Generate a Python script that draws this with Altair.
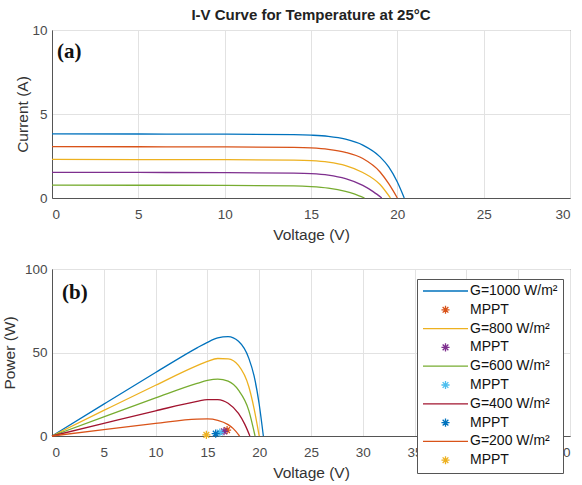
import altair as alt
import pandas as pd

# ---------------- data ----------------
keys_g = ["G=1000 W/m²", "G=800 W/m²", "G=600 W/m²", "G=400 W/m²", "G=200 W/m²"]
keys_m = ["MPPT1", "MPPT2", "MPPT3", "MPPT4", "MPPT5"]

v_1000 = [0, 5, 10, 14, 15, 16, 17, 18, 19, 19.5, 20, 20.4]
i_1000 = [3.82, 3.81, 3.80, 3.77, 3.74, 3.67, 3.50, 3.15, 2.45, 1.85, 0.95, 0]
p_1000 = [0, 19.1, 38.0, 52.8, 56.1, 58.7, 59.5, 56.7, 46.5, 36.1, 19.0, 0]

v_800 = [0, 5, 10, 14, 15, 16, 17, 18, 19, 19.5, 20.0]
i_800 = [3.06, 3.05, 3.04, 3.01, 2.98, 2.90, 2.72, 2.35, 1.55, 0.85, 0]
p_800 = [0, 15.3, 30.4, 42.1, 44.7, 46.4, 46.2, 42.3, 29.5, 16.6, 0]

v_600 = [0, 5, 10, 14, 15, 16, 17, 18, 19, 19.6]
i_600 = [2.30, 2.29, 2.28, 2.25, 2.22, 2.13, 1.93, 1.52, 0.80, 0]
p_600 = [0, 11.5, 22.8, 31.5, 33.3, 34.1, 32.8, 27.4, 15.2, 0]

v_400 = [0, 5, 10, 14, 15, 16, 17, 18, 18.6, 19.1]
i_400 = [1.53, 1.52, 1.51, 1.48, 1.45, 1.36, 1.15, 0.75, 0.38, 0]
p_400 = [0, 7.6, 15.1, 20.7, 21.8, 21.8, 19.6, 13.5, 7.1, 0]

v_200 = [0, 5, 10, 14, 15, 16, 17, 17.5, 18.1]
i_200 = [0.77, 0.76, 0.75, 0.72, 0.68, 0.59, 0.40, 0.25, 0]
p_200 = [0, 3.8, 7.5, 10.1, 10.2, 9.4, 6.8, 4.4, 0]

mppt_v = [16.9, 16.6, 16.2, 15.8, 14.9]
mppt_y = [3.5, 2.8, 2.1, 1.4, 0.7]

# ---------------- styling ----------------
BLUE, ORANGE, YELLOW, PURPLE = "#0072BD", "#D95319", "#EDB120", "#7E2F8E"
GREEN, CYAN, DARKRED = "#77AC30", "#4DBEEE", "#A2142F"
# symbols drawn at size 2025 (unit = 22.5 px): a 45 px line and a small asterisk
LINE_SYM = "M-1,0L1,0"
AST_SYM = ("M0,-0.18L0,0.18M-0.18,0L0.18,0M-0.127,-0.127L0.127,0.127"
           "M-0.127,0.127L0.127,-0.127")
SYM_SIZE = 2025
FONT = "Liberation Sans"

curves_v = [v_1000, v_800, v_600, v_400, v_200]
curves_i = [i_1000, i_800, i_600, i_400, i_200]
curves_p = [p_1000, p_800, p_600, p_400, p_200]

iv_rows, pv_rows = [], []
for k, vs, is_, ps in zip(keys_g, curves_v, curves_i, curves_p):
    for j, (v, i) in enumerate(zip(vs, is_)):
        iv_rows.append({"key": k, "V": v, "I": i, "o": j})
    for j, (v, p) in enumerate(zip(vs, ps)):
        pv_rows.append({"key": k, "V": v, "P": p, "o": j})
df_iv = pd.DataFrame(iv_rows)
df_pv = pd.DataFrame(pv_rows)
df_m = pd.DataFrame({"key": keys_m, "V": mppt_v, "P": mppt_y})

# ---------------- panel (a) ----------------
color_a = alt.Scale(domain=keys_g, range=[BLUE, ORANGE, YELLOW, PURPLE, GREEN])
xa = alt.X("V:Q", scale=alt.Scale(domain=[0, 30], nice=False),
           axis=alt.Axis(values=list(range(0, 31, 5)), title="Voltage (V)"))
ya = alt.Y("I:Q", scale=alt.Scale(domain=[0, 10], nice=False),
           axis=alt.Axis(values=[0, 5, 10], title="Current (A)", titlePadding=1))
lines_a = alt.Chart(df_iv).mark_line(strokeWidth=1.3, interpolate="monotone").encode(
    x=xa, y=ya, color=alt.Color("key:N", scale=color_a, legend=None), order="o:Q")
lab_a = alt.Chart(pd.DataFrame({"t": ["(a)"]})).mark_text(
    font="Liberation Serif", fontWeight="bold", fontSize=21, align="left", baseline="middle",
    color="#111"
).encode(x=alt.value(5), y=alt.value(22), text="t:N")
chart_a = alt.layer(lines_a, lab_a).properties(
    width=518, height=168,
    title=alt.Title("I-V Curve for Temperature at 25°C", font=FONT, fontSize=15,
                    fontWeight="bold", color="#222", offset=0))

# ---------------- panel (b) ----------------
leg_keys = [keys_g[0], keys_m[0], keys_g[1], keys_m[1], keys_g[2], keys_m[2],
            keys_g[3], keys_m[3], keys_g[4], keys_m[4]]
leg_colors = [BLUE, ORANGE, YELLOW, PURPLE, GREEN, CYAN, DARKRED, BLUE, ORANGE, YELLOW]
leg_shapes = [LINE_SYM, AST_SYM] * 5
legend_b = alt.Legend(
    orient="none", legendX=365, legendY=10, title=None,
    strokeColor="#555", fillColor="white", padding=5,
    labelFont=FONT, labelFontSize=14, labelColor="#111",
    symbolStrokeWidth=1.3, symbolOpacity=1, symbolSize=SYM_SIZE,
    clipHeight=14, rowPadding=4.8, labelOffset=1,
    labelExpr="indexof(datum.label, 'MPPT') == 0 ? '\u00a0\u00a0MPPT' : datum.label")
color_b = alt.Scale(domain=leg_keys, range=leg_colors)
xb = alt.X("V:Q", scale=alt.Scale(domain=[0, 50], nice=False),
           axis=alt.Axis(values=list(range(0, 51, 5)), title="Voltage (V)"))
yb = alt.Y("P:Q", scale=alt.Scale(domain=[0, 100], nice=False),
           axis=alt.Axis(values=[0, 50, 100], title="Power (W)", titlePadding=7))
lines_b = alt.Chart(df_pv).mark_line(strokeWidth=1.3, interpolate="monotone").encode(
    x=xb, y=yb, color=alt.Color("key:N", scale=color_b, legend=legend_b), order="o:Q")
pts_b = alt.Chart(df_m).mark_point(filled=False, strokeWidth=1.3, opacity=1,
                                   size=SYM_SIZE).encode(
    x=xb, y=yb,
    color=alt.Color("key:N", scale=color_b, legend=legend_b),
    shape=alt.Shape("key:N", scale=alt.Scale(domain=leg_keys, range=leg_shapes),
                    legend=legend_b))
lab_b = alt.Chart(pd.DataFrame({"t": ["(b)"]})).mark_text(
    font="Liberation Serif", fontWeight="bold", fontSize=21, align="left", baseline="middle",
    color="#111"
).encode(x=alt.value(10), y=alt.value(24), text="t:N")
chart_b = alt.layer(lines_b, pts_b, lab_b).properties(width=518, height=167)

chart = alt.vconcat(chart_a, chart_b, spacing=18).resolve_scale(
    color="independent", shape="independent"
).resolve_legend(color="independent", shape="independent").properties(
    padding={"left": 1, "top": 7, "right": 2, "bottom": 2}, background="white"
).configure_view(stroke="#555", strokeWidth=1).configure_axis(
    labelFont=FONT, labelFontSize=13.5, labelColor="#4a4a4a",
    titleFont=FONT, titleFontSize=15.5, titleFontWeight="normal", titleColor="#333",
    gridColor="#e2e2e2", domainColor="#555", ticks=False
).configure_axisX(labelPadding=9.5, titlePadding=6).configure_axisY(labelPadding=5)

chart.save("out.html", embed_options={"renderer": "svg", "actions": False})
